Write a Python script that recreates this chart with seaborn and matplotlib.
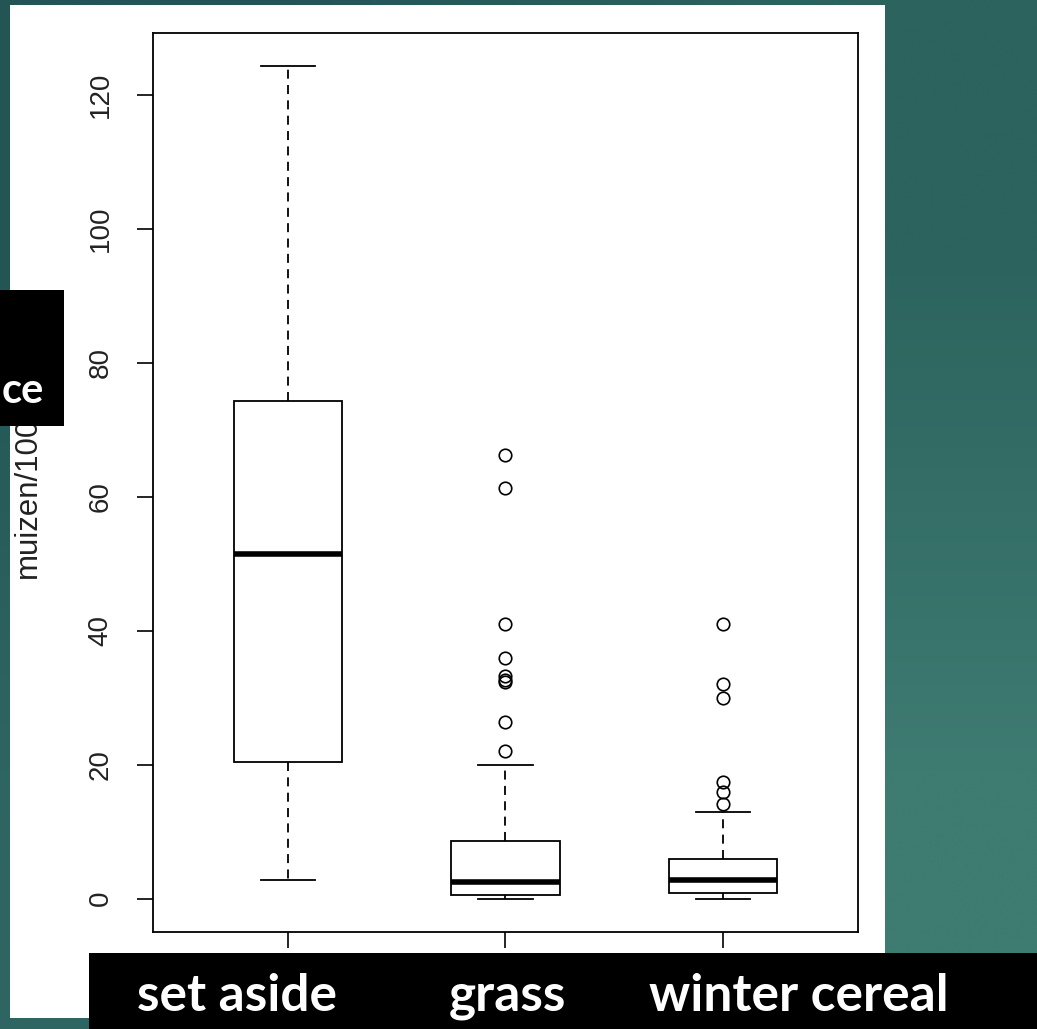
import numpy as np
import pandas as pd
import matplotlib
matplotlib.use("Agg")
import matplotlib.pyplot as plt
from matplotlib.patches import Rectangle
import seaborn as sns

# --- data (mice per 100 trap nights) ---
habitats = ["set aside", "grass", "winter cereal"]

set_aside = [2.8, 20.4, 51.5, 74.3, 124.3]

grass = [0, 0, 0, 0, 0, 0, 0.2, 0.3, 0.4, 0.5,
         0.55,
         0.8, 1.0, 1.2, 1.5, 1.7, 1.9, 2.0, 2.2, 2.4,
         2.5,
         2.8, 3.2, 3.6, 4.1, 4.7, 5.3, 6.0, 6.9, 7.8,
         8.6,
         19.9,
         22.0, 26.4, 32.4, 32.7, 33.2, 36.0, 41.0, 61.3, 66.3]

winter_cereal = [0, 0, 0, 0.2, 0.4, 0.5, 0.7,
                 0.8,
                 1.0, 1.3, 1.6, 1.9, 2.2, 2.5,
                 2.8,
                 3.2, 3.6, 4.0, 4.5, 5.0, 5.5,
                 5.9,
                 13.0,
                 14.1, 16.0, 17.4, 30.0, 32.0, 41.0]

y_ticks = [0, 20, 40, 60, 80, 100, 120]
y_label = "muizen/100"
cut_label = "ce"

df = pd.DataFrame({
    "habitat": ["set aside"] * len(set_aside) + ["grass"] * len(grass)
               + ["winter cereal"] * len(winter_cereal),
    "muizen": set_aside + grass + winter_cereal,
})

W, H = 1037, 1029
fig = plt.figure(figsize=(W / 100, H / 100), dpi=100)

# --- teal slide background ---
bg = fig.add_axes([0, 0, 1, 1], zorder=-10)
grad = np.array([[[0x23, 0x55, 0x54], [0x2c, 0x63, 0x5e]],
                 [[0x2e, 0x65, 0x62], [0x3e, 0x7b, 0x71]]]) / 255.0
bg.imshow(grad, extent=[0, 1, 0, 1], aspect="auto", interpolation="bilinear")
bg.set_axis_off()

# white plot panel
fig.add_artist(Rectangle((10 / W, 1 - 1018 / H), (885 - 10) / W, (1018 - 5) / H,
                         transform=fig.transFigure, facecolor="white",
                         edgecolor="none", zorder=-5))

# --- main boxplot ---
ax = fig.add_axes([153 / W, 1 - 932 / H, (858 - 153) / W, (932 - 33) / H])
sns.boxplot(data=df, x="habitat", y="muizen", order=habitats, ax=ax,
            width=0.5, color="white", saturation=1, linecolor="black",
            linewidth=1.3, fliersize=9,
            whiskerprops=dict(linestyle=(0, (5, 3.5))),
            medianprops=dict(linewidth=4),
            flierprops=dict(marker="o", markersize=9, markerfacecolor="none",
                            markeredgecolor="black", markeredgewidth=1.2))

ax.set_xlim(-0.62, 2.62)
ax.set_ylim(-4.97, 129.27)
ax.set_yticks(y_ticks)
ax.set_xlabel("")
ax.set_ylabel("")
ax.set_facecolor("white")
for s in ax.spines.values():
    s.set_visible(True)
    s.set_linewidth(1.3)
    s.set_color("black")
ax.tick_params(axis="both", direction="out", length=11.5, width=1.2, color="black")
ax.tick_params(axis="x", labelbottom=False)
ax.tick_params(axis="y", labelrotation=90, pad=17, labelsize=20)
for lab in ax.get_yticklabels():
    lab.set_fontfamily("Liberation Sans")
    lab.set_verticalalignment("center")
    lab.set_color("#222222")

# y axis label (partly hidden by the black box, as in the slide)
fig.text(28 / W, 1 - 578 / H, y_label, rotation=90, ha="center", va="bottom",
         fontsize=22.5, family="Liberation Sans", color="#222222", zorder=2)

# --- black label boxes of the slide ---
fig.add_artist(Rectangle((0, 1 - 426 / H), 64 / W, (426 - 290) / H,
                         transform=fig.transFigure, facecolor="black",
                         edgecolor="none", zorder=5))
fig.add_artist(Rectangle((89 / W, 0), (W - 89) / W, (H - 953) / H,
                         transform=fig.transFigure, facecolor="black",
                         edgecolor="none", zorder=5))

fig.text(2 / W, 1 - 403 / H, cut_label, ha="left", va="baseline",
         fontsize=30, fontweight="bold", family="Lato", color="white", zorder=6)

label_x = [237, 507, 799]
for name, xp in zip(habitats, label_x):
    fig.text(xp / W, 1 - 1011 / H, name, ha="center", va="baseline",
             fontsize=37, fontweight="bold", family="Lato", color="white",
             zorder=6)

fig.savefig("out.png", dpi=100)
plt.close(fig)
